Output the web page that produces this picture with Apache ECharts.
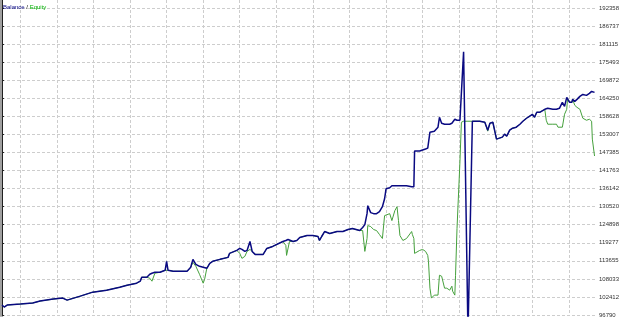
<!DOCTYPE html>
<html>
<head>
<meta charset="utf-8">
<script src="https://cdn.jsdelivr.net/npm/echarts@6/dist/echarts.min.js"></script>
<style>
html, body { margin: 0; padding: 0; background: #fff; }
#chart { width: 625px; height: 318px; }
</style>
</head>
<body>
<div id="chart"></div>
<script>
// trade number (x) of each sample
const trades = [
    0, 3, 7, 25, 42, 52, 70, 83, 89, 107,
    124, 143, 161, 171, 184, 189, 191, 198, 202, 205,
    209, 216, 223, 225, 227, 234, 253, 258, 261, 265,
    270, 275, 277, 280, 284, 288, 298, 309, 311, 321,
    325, 328, 332, 335, 339, 342, 346, 357, 362, 370,
    384, 388, 389, 391, 393, 398, 403, 407, 417, 425,
    432, 434, 437, 441, 448, 458, 466, 473, 479, 489,
    493, 496, 499, 500, 504, 508, 512, 516, 520, 523,
    525, 530, 533, 537, 540, 542, 544, 548, 553, 560,
    561, 563, 564, 571, 575, 579, 582, 583, 585, 587,
    591, 596, 598, 601, 605, 608, 612, 615, 616, 619,
    620, 622, 626, 628, 631, 637, 639, 643, 653, 660,
    664, 667, 671, 676, 680, 684, 687, 690, 694, 698,
    703, 708, 712, 717, 721, 725, 728, 731, 735, 742,
    744, 746, 753, 758, 760, 762, 766, 769, 772, 773,
    776, 779, 780, 783, 786, 787, 790, 792, 794, 796,
    799, 800, 803, 806, 807, 810
];

const balance = [
    99883, 99264, 99883, 100192, 100502, 101120, 101739, 102048, 101429, 102667,
    103904, 104522, 105450, 106069, 106687, 107306, 108543, 108543, 109471, 109780,
    110089, 110089, 110708, 113491, 110708, 110399, 110399, 111636, 114110, 112564,
    111945, 111636, 111636, 111326, 112873, 113491, 114110, 114728, 115966, 116893,
    117512, 117203, 116584, 116893, 119677, 116584, 115656, 115656, 117512, 118131,
    119677, 119986, 120296, 120296, 120605, 119677, 119986, 120914, 121533, 121533,
    121223, 119986, 121223, 122770, 122151, 122770, 122770, 123388, 123698, 123079,
    124007, 124935, 128337, 130811, 128646, 128337, 128337, 128955, 130502, 132976,
    136069, 136378, 136997, 136997, 136997, 136997, 136997, 136997, 136997, 136687,
    136687, 136687, 147821, 147821, 148131, 148440, 148749, 149059, 153698, 153698,
    154007, 155244, 158337, 156481, 156172, 156172, 156172, 156481, 156481, 157718,
    157718, 157409, 157409, 157100, 178749, 91000, 91000, 157100, 157100, 156791,
    154316, 156481, 156791, 151533, 151842, 152151, 153079, 152461, 154316, 154935,
    155244, 156172, 157100, 158028, 158646, 159265, 158337, 159883, 159883, 160811,
    161120, 161120, 160811, 160811, 161120, 161120, 162976, 161739, 164523, 164832,
    162976, 162976, 163904, 163285, 163904, 164213, 164832, 165141, 165450, 165141,
    165141, 165450, 165760, 166378, 166378, 166069
];

const equity = [
    99883, 99264, 99883, 100192, 100502, 101120, 101739, 102048, 101429, 102667,
    103904, 104522, 105450, 106069, 106687, 107306, 108543, 108543, 108234, 107306,
    109780, 110089, 110708, 111017, 110708, 110399, 110399, 111636, 113182, 111945,
    109471, 106687, 107924, 111326, 112873, 113491, 114110, 114728, 115966, 116893,
    115966, 114419, 115038, 116584, 117203, 116584, 115656, 115656, 117512, 118131,
    119677, 118440, 115347, 115656, 119677, 119677, 119986, 120914, 121533, 121533,
    121223, 119986, 121223, 122770, 122151, 122770, 122770, 123388, 123698, 123079,
    123079, 116584, 120605, 124625, 124316, 123388, 123079, 121842, 120605, 127718,
    128028, 128337, 126172, 129265, 130502, 126172, 121533, 119986, 120605, 122770,
    121842, 120605, 115966, 116893, 117203, 116584, 115347, 113491, 105141, 102048,
    102976, 102976, 109161, 108852, 105141, 105141, 104522, 105759, 104213, 102976,
    109161, 123698, 144419, 156791, 157100, 157100, 157100, 157100, 157100, 156791,
    154007, 156481, 156791, 151533, 151842, 152151, 153079, 152461, 154316, 154935,
    155244, 156172, 157100, 158028, 158646, 159265, 158337, 159883, 159883, 160811,
    157409, 156172, 156172, 156172, 155244, 155244, 155244, 159265, 160811, 163904,
    162976, 162976, 163904, 162048, 161430, 161430, 160811, 160193, 158028, 157409,
    157409, 157409, 157718, 157100, 151533, 146275
];

// price scale labels on the right
const yTicks = [
    96790, 102412, 108033, 113655, 119277, 124898, 130520, 136142, 141763,
    147385, 153007, 158628, 164250, 169872, 175493, 181115, 186737, 192358
];

// vertical grid lines (trade numbers)
const xTicks = [25, 75, 125, 175, 225, 275, 325, 375, 425, 475, 525, 575, 625, 675, 725, 775];

const yMin = 96481;
const yMax = 194832;

const chart = echarts.init(document.getElementById('chart'));

let option = {
    animation: false,
    title: {
        text: '{b|Balance} / {e|Equity}',
        left: 3,
        top: 4,
        padding: 0,
        textStyle: {
            fontFamily: 'Liberation Sans',
            fontSize: 6,
            fontWeight: 'normal',
            color: '#000',
            rich: {
                b: { color: '#000080', fontSize: 6, fontWeight: 'normal', fontFamily: 'Liberation Sans' },
                e: { color: '#00b000', fontSize: 6, fontWeight: 'normal', fontFamily: 'Liberation Sans' }
            }
        }
    },
    grid: {
        left: 2,
        right: 29,
        top: 0,
        bottom: 0
    },
    xAxis: {
        type: 'value',
        min: 0,
        max: 812,
        axisLine: { show: false },
        axisLabel: { show: false },
        axisTick: { show: false, customValues: xTicks },
        splitLine: {
            show: true,
            lineStyle: { color: '#cdcdcd', type: [3, 2], width: 1 }
        }
    },
    yAxis: [
        {
            type: 'value',
            position: 'right',
            min: yMin,
            max: yMax,
            axisLine: { show: true, lineStyle: { color: '#202020', width: 1 } },
            axisTick: { show: true, length: 2, lineStyle: { color: '#202020' }, customValues: yTicks },
            axisLabel: {
                customValues: yTicks,
                formatter: v => String(v),
                margin: 3,
                color: '#333',
                fontFamily: 'Liberation Sans',
                fontSize: 6
            },
            splitLine: {
                show: true,
                lineStyle: { color: '#cdcdcd', type: [3, 2], width: 1 }
            }
        },
        {
            // grey frame on the left side
            type: 'value',
            position: 'left',
            offset: 1,
            min: yMin,
            max: yMax,
            axisLine: { show: true, lineStyle: { color: '#a0a0a0', width: 2 } },
            axisTick: { show: false },
            axisLabel: { show: false },
            splitLine: { show: false }
        }
    ],
    series: [
        {
            name: 'Equity',
            type: 'line',
            data: trades.map((t, i) => [t, equity[i]]),
            showSymbol: false,
            clip: true,
            lineStyle: { color: '#45a03c', width: 1 },
            z: 2
        },
        {
            name: 'Balance',
            type: 'line',
            data: trades.map((t, i) => [t, balance[i]]),
            showSymbol: false,
            clip: true,
            lineStyle: { color: '#0a0a82', width: 1.5 },
            z: 3
        }
    ]
};

chart.setOption(option);
</script>
</body>
</html>
